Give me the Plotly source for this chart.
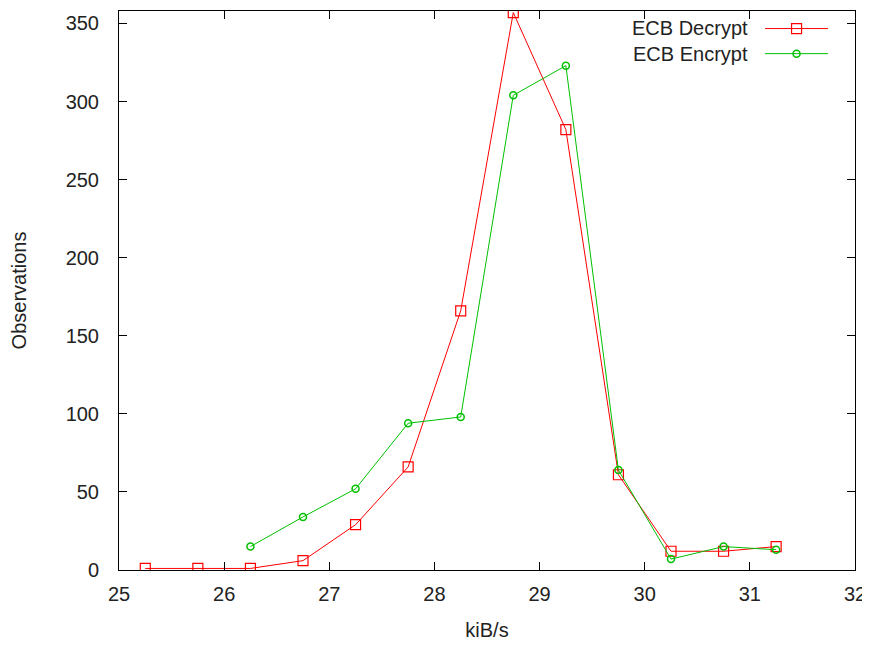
import plotly.graph_objects as go

dec_x = [25.25, 25.75, 26.25, 26.75, 27.25, 27.75, 28.25, 28.75, 29.25, 29.75, 30.25, 30.75, 31.25]
dec_y = [1, 1, 1, 6, 29, 66, 166, 357, 282, 61, 12, 12, 15]
enc_x = [26.25, 26.75, 27.25, 27.75, 28.25, 28.75, 29.25, 29.75, 30.25, 30.75, 31.25]
enc_y = [15, 34, 52, 94, 98, 304, 323, 64, 7, 15, 13]
x_ticks = [25, 26, 27, 28, 29, 30, 31, 32]
y_ticks = [0, 50, 100, 150, 200, 250, 300, 350]

FONT = "Liberation Sans, Arial, sans-serif"
TXT = "#222222"
RED = "#ff0000"
GREEN = "#00c000"
FS = 20

fig = go.Figure()
fig.add_trace(go.Scatter(x=dec_x, y=dec_y, name="ECB Decrypt", mode="lines+markers",
                         line=dict(color=RED, width=1),
                         marker=dict(symbol="square-open", size=10, color=RED, line=dict(width=1.2))))
fig.add_trace(go.Scatter(x=enc_x, y=enc_y, name="ECB Encrypt", mode="lines+markers",
                         line=dict(color=GREEN, width=1),
                         marker=dict(symbol="circle-open", size=7, color=GREEN, line=dict(width=1.5))))

axis_common = dict(showline=True, linecolor="black", linewidth=1, mirror="allticks",
                   ticks="inside", ticklen=8, tickcolor="black", tickwidth=1,
                   showgrid=False, zeroline=False, automargin=False,
                   tickfont=dict(family=FONT, size=FS, color=TXT))

fig.update_layout(
    width=862, height=633,
    margin=dict(l=111, r=15, t=3, b=71, autoexpand=False),
    paper_bgcolor="white", plot_bgcolor="white",
    font=dict(family=FONT, size=FS, color=TXT),
    xaxis=dict(range=[25, 32], tickvals=x_ticks, ticktext=[str(v) for v in x_ticks],
               title=dict(text="kiB/s", font=dict(family=FONT, size=FS, color=TXT), standoff=23),
               ticklabelstandoff=6, **axis_common),
    yaxis=dict(range=[0, 358], tickvals=y_ticks, ticktext=[str(v) for v in y_ticks],
               title=dict(text="Observations", font=dict(family=FONT, size=FS, color=TXT), standoff=36),
               ticklabelstandoff=15, **axis_common),
    showlegend=True,
    legend=dict(x=0.871, y=1.0, xanchor="left", yanchor="top", bgcolor="rgba(0,0,0,0)",
                font=dict(family=FONT, size=17, color="rgba(0,0,0,0)"), itemwidth=63,
                borderwidth=0),
    annotations=[
        dict(text="ECB Decrypt", x=0.8573, y=0.9696, xref="paper", yref="paper",
             xanchor="right", yanchor="middle", showarrow=False,
             font=dict(family=FONT, size=FS, color=TXT)),
        dict(text="ECB Encrypt", x=0.8573, y=0.923, xref="paper", yref="paper",
             xanchor="right", yanchor="middle", showarrow=False,
             font=dict(family=FONT, size=FS, color=TXT)),
    ],
)

fig.write_html("out.html")
